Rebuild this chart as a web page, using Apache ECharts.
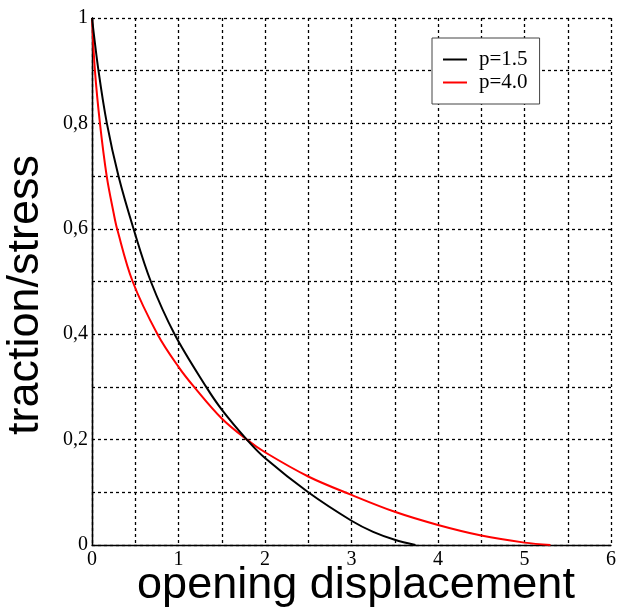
<!DOCTYPE html>
<html>
<head>
<meta charset="utf-8">
<script src="https://cdn.jsdelivr.net/npm/echarts@6/dist/echarts.min.js"></script>
<style>
  html, body { margin: 0; padding: 0; background: #fff; }
  #chart { width: 619px; height: 610px; }
</style>
</head>
<body>
<div id="chart"></div>
<script>
// Normalised cohesive traction versus opening displacement, two shape exponents.
const seriesNames = ['p=1.5', 'p=4.0'];

const openingP15 = [0, 0.075, 0.172, 0.306, 0.48, 0.68, 0.955, 1.32, 1.5, 1.79, 2.0, 2.5, 3.0, 3.25, 3.5, 3.74];
const tractionP15 = [1, 0.9, 0.8, 0.7, 0.6, 0.5, 0.4, 0.3, 0.257, 0.2, 0.165, 0.1, 0.046, 0.025, 0.01, 0];

const openingP40 = [0, 0.034, 0.092, 0.17, 0.25, 0.29, 0.47, 0.757, 1.0, 1.18, 1.5, 1.79, 2.0, 2.5, 3.0, 3.5, 4.0, 4.5, 5.0, 5.3];
const tractionP40 = [1, 0.9, 0.8, 0.7, 0.63, 0.6, 0.5, 0.4, 0.338, 0.3, 0.24, 0.2, 0.176, 0.13, 0.095, 0.063, 0.038, 0.018, 0.0045, 0];

const xTitle = 'opening displacement';
const yTitle = 'traction/stress';

const zip = (xs, ys) => xs.map((x, i) => [x, ys[i]]);

const serif = '"Liberation Serif", "Times New Roman", serif';
const sans = '"Liberation Sans", Arial, sans-serif';

const gridLine = { show: true, lineStyle: { color: '#000', width: 1.3, type: [3, 3] } };

const chart = echarts.init(document.getElementById('chart'), null, { renderer: 'canvas' });
chart.setOption({
  animation: false,
  backgroundColor: '#fff',
  grid: { left: 92, right: 4, top: 18, bottom: 65, containLabel: false },
  xAxis: {
    type: 'value', min: 0, max: 6, interval: 0.5,
    axisLine: { show: true, onZero: false, lineStyle: { color: '#000', width: 1.3 } },
    axisTick: { show: false },
    axisLabel: {
      margin: 5, color: '#000', fontFamily: serif, fontSize: 20,
      formatter: v => (Math.abs(v - Math.round(v)) < 1e-6 ? String(Math.round(v)) : '')
    },
    splitLine: gridLine
  },
  yAxis: [{
    type: 'value', min: 0, max: 1, interval: 0.1,
    axisLine: { show: true, onZero: false, lineStyle: { color: '#000', width: 1.3 } },
    axisTick: { show: false },
    axisLabel: {
      margin: 4, color: '#000', fontFamily: serif, fontSize: 20,
      formatter: v => {
        const n = Math.round(v * 10);
        if (n % 2) return '';
        if (n === 0) return '0';
        if (n === 10) return '1';
        return '0,' + n;
      }
    },
    splitLine: gridLine
  }, {
    type: 'value', min: 0, max: 1, position: 'right',
    axisLine: { show: true, lineStyle: { color: '#000', width: 1.3 } },
    axisTick: { show: false }, axisLabel: { show: false }, splitLine: { show: false }
  }],
  legend: {
    orient: 'vertical', left: 432, top: 38,
    data: seriesNames.map(name => ({ name, icon: 'rect' })),
    backgroundColor: '#fff', borderColor: '#444', borderWidth: 1,
    padding: [11, 12, 11, 11],
    itemWidth: 24, itemHeight: 2, itemGap: 2,
    textStyle: { color: '#000', fontFamily: serif, fontSize: 21, padding: [0, 0, 0, 7] }
  },
  series: [
    {
      name: seriesNames[0], type: 'line', data: zip(openingP15, tractionP15),
      symbol: 'none', smooth: 0.35,
      lineStyle: { color: '#000', width: 2 }, itemStyle: { color: '#000' }, z: 3
    },
    {
      name: seriesNames[1], type: 'line', data: zip(openingP40, tractionP40),
      symbol: 'none', smooth: 0.35,
      lineStyle: { color: '#ff0000', width: 2 }, itemStyle: { color: '#ff0000' }, z: 2
    }
  ],
  graphic: [
    {
      type: 'text', x: 356, y: 586, silent: true,
      style: { text: xTitle, fill: '#000', font: '45px ' + sans, align: 'center', verticalAlign: 'middle' }
    },
    {
      type: 'text', x: 26, y: 295, rotation: Math.PI / 2, silent: true,
      style: { text: yTitle, fill: '#000', font: '45px ' + sans, align: 'center', verticalAlign: 'middle' }
    }
  ]
});
</script>
</body>
</html>
